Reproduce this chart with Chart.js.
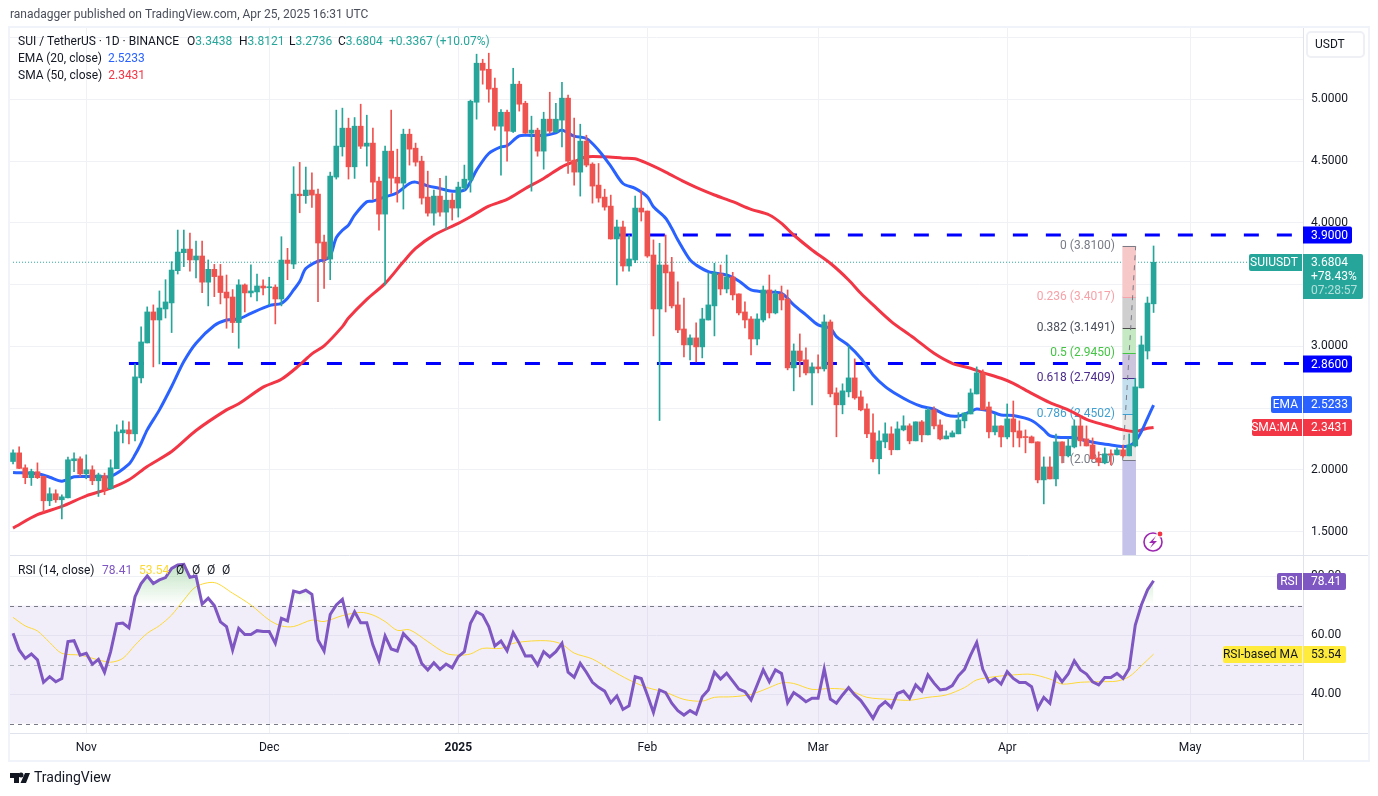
<!DOCTYPE html>
<html><head><meta charset="utf-8">
<style>html,body{margin:0;padding:0;background:#fff}canvas{position:absolute;left:0;top:0}</style>
<script src="https://cdn.jsdelivr.net/npm/chart.js@4/dist/chart.umd.min.js"></script>
</head><body><canvas id="c" width="1378" height="796"></canvas>
<script>
const opens=[2.058,2.128,2.007,1.927,1.975,1.937,1.74,1.797,1.748,1.764,2.064,2.08,1.958,1.991,1.902,1.942,1.837,2.0,2.29,2.314,2.282,2.735,3.018,3.269,3.204,3.293,3.342,3.603,3.749,3.778,3.69,3.722,3.51,3.614,3.56,3.43,3.39,3.183,3.488,3.423,3.431,3.479,3.465,3.47,3.374,3.689,3.657,4.223,4.21,4.256,4.223,3.835,3.697,4.361,4.606,4.757,
4.444,4.773,4.611,4.636,4.328,4.061,4.571,4.36,4.312,4.708,4.595,4.49,4.199,4.069,4.207,4.077,4.174,4.11,4.272,4.336,4.967,5.283,5.234,5.081,4.773,4.886,4.73,5.113,4.959,4.717,4.741,4.571,4.83,4.725,4.822,5.0,4.498,4.401,4.652,4.466,4.296,4.199,4.126,
3.86,3.957,3.641,3.69,4.11,4.086,3.73,3.293,3.649,3.593,3.326,3.131,3.002,3.059,2.986,3.204,3.318,3.577,3.455,3.552,3.415,3.269,3.212,3.05,3.204,3.447,3.261,3.415,3.374,2.816,2.953,2.881,2.775,2.824,2.808,3.188,2.614,2.517,2.622,2.735,2.581,2.484,2.29,2.08,2.217,2.282,2.153,2.314,2.347,2.225,2.379,2.274,
2.476,2.354,2.241,2.257,2.282,2.387,2.443,2.605,2.775,2.5,2.298,2.346,2.257,2.403,2.306,2.257,2.257,2.217,1.909,2.014,1.917,2.217,2.104,2.176,2.346,2.241,2.192,2.087,2.047,2.12,2.112,2.152,2.104,2.184,2.654,2.953,3.3438];
const highs=[2.152,2.177,2.031,1.996,2.047,1.94,1.845,1.829,1.788,2.093,2.128,2.096,2.112,2.023,1.964,1.964,2.072,2.355,2.387,2.379,2.848,3.148,3.31,3.326,3.439,3.53,3.676,3.932,3.932,3.908,3.843,3.843,3.69,3.654,3.654,3.568,3.45,3.53,3.496,3.65,3.576,3.53,3.55,3.488,3.878,3.784,4.445,4.48,4.442,4.396,4.264,3.892,4.401,4.903,4.919,4.838,
4.843,4.951,4.862,4.757,4.36,4.611,4.903,4.587,4.749,4.749,4.636,4.53,4.409,4.255,4.35,4.369,4.228,4.32,4.458,4.984,5.356,5.315,5.364,5.162,4.908,4.903,5.242,5.137,4.975,4.854,4.757,4.886,5.048,4.959,5.129,5.024,4.838,4.789,4.7,4.477,4.471,4.263,4.215,
4.013,4.005,3.892,4.207,4.248,4.086,3.852,3.825,3.892,3.711,3.512,3.382,3.083,3.18,3.299,3.585,3.663,3.649,3.73,3.59,3.415,3.35,3.231,3.253,3.479,3.568,3.447,3.479,3.447,3.01,3.091,2.978,2.856,2.921,3.245,3.204,2.654,2.687,2.994,2.889,2.63,2.525,2.444,2.306,2.371,2.339,2.379,2.428,2.363,2.379,2.39,2.492,
2.5,2.395,2.306,2.306,2.454,2.454,2.646,2.824,2.8,2.54,2.443,2.346,2.524,2.548,2.387,2.314,2.265,2.217,2.095,2.095,2.281,2.217,2.241,2.395,2.419,2.346,2.249,2.136,2.168,2.152,2.168,2.192,2.281,2.732,3.074,3.39,3.8121];
const lows=[2.039,2.0,1.878,1.864,1.92,1.648,1.70,1.727,1.594,1.764,1.975,1.937,1.918,1.87,1.775,1.789,1.837,2.0,2.209,2.201,2.225,2.695,3.018,2.824,2.848,3.22,3.102,3.576,3.636,3.60,3.545,3.426,3.318,3.393,3.334,3.137,3.102,2.975,3.269,3.39,3.358,3.407,3.326,3.172,3.318,3.53,3.62,4.072,4.148,4.115,3.352,3.46,3.53,4.345,4.531,4.345,
4.35,4.592,4.45,4.18,3.932,3.487,4.228,4.158,4.102,4.458,4.45,4.142,4.045,3.972,4.045,3.94,4.013,4.037,4.255,4.239,4.83,5.113,4.967,4.741,4.377,4.49,4.722,4.895,4.714,4.247,4.53,4.425,4.714,4.725,4.606,4.39,4.296,4.207,4.444,4.15,4.158,4.093,3.859,
3.487,3.6,3.6,3.668,4.005,3.711,3.075,2.39,3.269,3.301,3.102,2.905,2.881,2.864,2.897,3.204,3.075,3.407,3.423,3.366,3.245,3.139,2.921,3.002,3.188,3.22,3.253,3.285,2.8,2.63,2.743,2.759,2.517,2.775,2.79,2.581,2.258,2.444,2.581,2.562,2.468,2.25,2.055,1.958,2.169,2.112,2.153,2.306,2.201,2.225,2.217,2.274,
2.322,2.233,2.241,2.257,2.282,2.33,2.443,2.605,2.476,2.249,2.273,2.176,2.241,2.176,2.176,2.128,2.209,1.885,1.715,1.917,1.861,2.047,2.095,2.168,2.184,2.184,2.079,2.023,2.039,2.03,2.112,2.093,2.104,2.176,2.654,2.888,3.2736];
const closes=[2.128,2.002,1.927,1.977,1.927,1.74,1.797,1.748,1.772,2.072,2.08,1.958,1.991,1.902,1.95,1.829,2.007,2.298,2.314,2.282,2.743,3.026,3.269,3.204,3.301,3.35,3.608,3.754,3.778,3.69,3.722,3.51,3.614,3.555,3.426,3.382,3.183,3.488,3.423,3.439,3.479,3.463,3.47,3.374,3.689,3.662,4.223,4.21,4.256,4.215,3.827,3.697,4.369,4.612,4.757,4.444,
4.773,4.611,4.636,4.32,4.061,4.571,4.352,4.312,4.708,4.587,4.482,4.191,4.069,4.207,4.077,4.174,4.11,4.28,4.344,4.975,5.283,5.226,5.073,4.773,4.886,4.733,5.113,4.951,4.717,4.741,4.571,4.83,4.733,4.83,5.0,4.49,4.401,4.652,4.458,4.288,4.191,4.118,3.86,
3.957,3.641,3.698,4.11,4.078,3.722,3.293,3.649,3.585,3.318,3.123,3.002,3.059,2.986,3.212,3.326,3.585,3.455,3.552,3.407,3.261,3.204,3.05,3.212,3.447,3.261,3.415,3.366,2.816,2.953,2.873,2.775,2.824,2.808,3.188,2.606,2.517,2.63,2.735,2.573,2.476,2.282,2.08,2.225,2.282,2.153,2.322,2.347,2.225,2.379,2.274,2.476,
2.346,2.241,2.265,2.29,2.395,2.451,2.613,2.775,2.476,2.298,2.346,2.257,2.403,2.298,2.249,2.252,2.209,1.909,2.014,1.917,2.217,2.104,2.184,2.346,2.225,2.184,2.079,2.052,2.12,2.112,2.152,2.104,2.192,2.662,3.002,3.341,3.6804];
const emaIdx=[0,4,6,8,10,12,14,16,19,20,21,22,24,26,28,30,33,35,37,39,42,44,45,46,47,48,50,51,52,53,54,55,56,58,59,61,63,65,66,68,70,72,74,75,76,78,80,81,83,85,87,89,90,92,94,96,98,100,102,104,105,107,108,109,111,112,114,117,119,121,123,126,128,130,132,134,135,137,139,141,143,145,147,149,151,153,155,157,158,160,162,164,167,169,170,172,174,176,178,180,182,183,184,185,186,187];
const emaVal=[1.969,1.958,1.931,1.899,1.934,1.937,1.937,1.937,2.037,2.112,2.206,2.314,2.476,2.665,2.867,3.016,3.159,3.204,3.212,3.258,3.32,3.339,3.38,3.447,3.515,3.62,3.681,3.689,3.722,3.87,3.93,3.972,4.053,4.161,4.166,4.201,4.234,4.309,4.32,4.29,4.269,4.247,4.255,4.323,4.417,4.552,4.606,4.614,4.695,4.698,4.698,4.719,4.741,4.692,4.673,4.579,4.45,4.309,4.269,4.201,4.121,4.027,3.946,3.852,3.69,3.649,3.595,3.568,3.52,3.447,3.433,3.42,3.326,3.245,3.164,3.137,3.069,2.997,2.894,2.759,2.665,2.598,2.544,2.503,2.481,2.435,2.427,2.462,2.484,2.468,2.435,2.43,2.39,2.314,2.268,2.252,2.252,2.225,2.206,2.192,2.179,2.184,2.22,2.3,2.408,2.5233];
const smaIdx=[0,4,8,12,16,19,22,26,30,35,37,41,44,47,49,51,54,55,58,61,64,66,69,73,75,78,81,84,87,90,92,94,97,100,102,104,107,110,112,115,118,121,124,126,128,131,134,137,139,141,144,147,148,151,154,157,159,162,164,167,170,173,176,179,182,184,185,186,187];
const smaVal=[1.519,1.627,1.694,1.78,1.842,1.91,2.018,2.139,2.309,2.476,2.525,2.66,2.724,2.84,2.93,2.994,3.15,3.22,3.371,3.5,3.675,3.783,3.891,3.986,4.04,4.126,4.18,4.269,4.35,4.444,4.485,4.525,4.525,4.514,4.509,4.471,4.401,4.324,4.278,4.216,4.162,4.1,4.054,3.986,3.892,3.771,3.663,3.528,3.42,3.326,3.191,3.083,3.047,2.934,2.853,2.813,2.778,2.732,2.691,2.61,2.535,2.476,2.4,2.354,2.314,2.3,2.314,2.327,2.3431];
const rsiVal=[60.6,54.95,52.1,53.6,51.6,44,45.9,44.2,45.3,57.8,58.1,53.2,53.8,50.1,51.8,47.4,54.4,63.8,64.1,62.5,73,77.5,80.1,77.5,78.7,79.5,82.6,83.8,84,79.6,80,70.5,72.5,70,64.5,62.9,54.95,62.3,60.2,60.2,61.5,61.2,61.2,57.2,65.7,64.8,74.9,74.4,75.2,73.8,58.3,54.6,67,70.2,72.1,63.6,67.9,64.2,64.2,56.6,51.3,59.7,55.3,54.6,60.5,58.3,56.1,50.4,48.2,50.6,48.4,50.2,48.9,52.7,
54.4,64,67.9,66.8,62.9,56.3,58,54.7,60.8,57.2,52.9,53,49.8,54.4,52.6,54.4,57.2,47.4,45.7,50.4,47.4,44,42.3,41,37.1,39.4,34.8,36,45.9,45.3,39.7,33.8,41.4,40.5,36.9,34.4,32.9,34.4,33.2,39.1,41.4,47.4,45.1,47.1,44.4,41.7,40.8,38,43.1,48.2,44.2,48.2,47,37.1,40.5,39.1,37.4,38.6,38.6,48.5,38.3,36.9,39.7,42.2,39.7,37.8,34.9,31.8,35.7,37.4,35.5,40.2,
41,38.6,43.1,41,46.5,43.7,41.4,41.7,42.9,46.2,48.4,53.2,57.5,48.4,44.2,45.3,43.4,47.6,45.3,43.9,43.9,42.5,35.2,38.9,36.9,47,44.2,46.8,51.3,48.2,46.8,44.2,43.1,45.6,45.6,47,45.3,48.7,63.4,70.2,75.3,78.41];
const maIdx=[0,2,4,6,8,11,14,16,18,20,22,24,26,28,30,33,36,39,42,44,46,49,51,54,57,59,61,63,65,68,71,73,75,77,80,82,85,88,90,92,95,98,101,104,107,110,113,115,118,121,124,126,128,131,134,137,140,144,147,150,153,156,158,161,164,167,170,172,175,178,181,183,185,187];
const maVal=[66,63.1,61.4,57.5,53.8,53.2,51.6,50.8,52.1,56.6,60.6,63.2,66.8,71.9,76.4,77.8,74.2,70.2,65.1,63.1,62.9,65.1,64.6,66.6,67.7,66.8,64.6,61.6,61.8,57.8,53.8,53.2,53.6,55.5,55.5,57.2,58,58,56.9,53.9,51.9,48.2,44.8,42.2,40.6,38.2,37.6,38.9,39.1,39.9,42.2,43.8,43.6,41.6,41.9,41.4,38.9,38.2,37.9,38.9,39.7,42.2,44.8,45.9,46.5,46.7,45.1,43.4,44,44.2,44.4,45.9,49.6,53.54];
const monthIdx=[12,42,73,104,132,163,193];
const monthNames=['Nov','Dec','2025','Feb','Mar','Apr','May'];
const fibRatios=['0','0.236','0.382','0.5','0.618','0.786','1'];
const fibPrices=[3.81,3.4017,3.1491,2.945,2.7409,2.4502,2.08];
const fibLine=['#787b86','#f7a1a8','#4a4a4a','#43c443','#4a2a8a','#3f9fd0','#787b86'];
const fibText=['#787b86','#f7a1a8','#4a4e5a','#43c443','#4a2a8a','#3f9fd0','#787b86'];
const fibFill=['#f6c8c8','#cfcfcf','#c5e9c3','#cdc5dd','#c4e0ee','#e6e6e6','#c5c3ea'];
const levelPrices=[3.9,2.86];
const levelStart=[99,19];
const rsiTicks=[40,60,80];
const lastPrice=3.6804, emaLast=2.5233, smaLast=2.3431, rsiLast=78.41, maLast=53.54;
const priceMin=1.31, priceMax=5.577, rsiMin=26.81, rsiMax=87.15;
// the readings above were taken against a scale that sat about one pixel high
const readingBias=0.009;
const adj=a=>a.map((v,i)=>i===a.length-1?v:+(v+readingBias).toFixed(4));
const O=adj(opens),H=adj(highs),L=adj(lows),C=adj(closes),EMA=adj(emaVal),SMA=adj(smaVal);

const FONT='Roboto, "Noto Sans", sans-serif';
const UP='#26a69a', DN='#ef5350', GRID='#f0f1f5', LINE='#e0e3eb';
const start=new Date(Date.UTC(2024,9,20));
const labels=Array.from({length:212},(_,i)=>new Date(start.getTime()+i*864e5).toISOString().slice(0,10));
const colors=closes.map((c,i)=>c>=opens[i]?UP:DN);
const pts=(idx,val)=>idx.map((k,n)=>({x:labels[k],y:val[n]}));
const canvas=document.getElementById('c');
const ctx0=canvas.getContext('2d');
const grad=ctx0.createLinearGradient(0,560,0,605);
grad.addColorStop(0,'rgba(76,175,80,0.38)');grad.addColorStop(1,'rgba(76,175,80,0)');

const base={pointRadius:0,pointHoverRadius:0};
const datasets=[];
datasets.push({type:'line',label:'Last price',data:[{x:labels[0],y:lastPrice},{x:labels[211],y:lastPrice}],borderColor:UP,borderWidth:1,borderDash:[1,2],order:9,yAxisID:'y',...base});
levelPrices.forEach((p,n)=>datasets.push({type:'line',label:'Level '+p,data:[{x:labels[levelStart[n]],y:p},{x:labels[211],y:p}],borderColor:'#0000ff',borderWidth:3,borderDash:[15,18],order:8,yAxisID:'y',...base}));
fibFill.forEach((col,n)=>{
  const a=fibPrices[n], b=n<fibPrices.length-1?fibPrices[n+1]:priceMin;
  const d=new Array(184).fill(null); d[183]=[b,a];
  datasets.push({type:'bar',label:'Fib '+n,data:d,backgroundColor:col,barThickness:13,grouped:false,order:7,yAxisID:'y'});
});
datasets.push({type:'line',label:'SMA 50',data:pts(smaIdx,SMA),borderColor:'#f23645',borderWidth:3,tension:.3,order:6,yAxisID:'y',...base});
datasets.push({type:'line',label:'EMA 20',data:pts(emaIdx,EMA),borderColor:'#2962ff',borderWidth:3,tension:.3,order:5,yAxisID:'y',...base});
datasets.push({type:'bar',label:'Wick',data:L.map((l,i)=>[l,H[i]]),backgroundColor:colors,barThickness:1,grouped:false,order:3,yAxisID:'y'});
datasets.push({type:'bar',label:'Body',data:O.map((o,i)=>[Math.min(o,C[i]),Math.max(o,C[i])]),backgroundColor:colors,barThickness:5,minBarLength:1,grouped:false,order:2,yAxisID:'y'});
datasets.push({type:'line',label:'RSI MA',data:pts(maIdx,maVal),borderColor:'#fdd835',borderWidth:1,tension:.3,order:6,yAxisID:'rsi',...base});
datasets.push({type:'line',label:'RSI',data:rsiVal,borderColor:'#7e57c2',borderWidth:3,tension:0,order:4,yAxisID:'rsi',fill:{target:{value:70},above:grad,below:'rgba(0,0,0,0)'},...base});

function runs(ctx,x,y,list,font){
  ctx.font=font;ctx.textBaseline='middle';ctx.textAlign='left';
  list.forEach(r=>{ctx.fillStyle=r[1];ctx.fillText(r[0],x,y);x+=ctx.measureText(r[0]).width+(r[2]||0);});
}
function rr(ctx,x,y,w,h,c,r){ctx.fillStyle=c;ctx.beginPath();ctx.roundRect(x,y,w,h,r===undefined?2:r);ctx.fill();}
function tag(ctx,y,lbl,lx,val,bg,fg,rx){
  if(lbl){rr(ctx,lx,y-8.5,1302-lx,17,bg,[2,0,0,2]);ctx.fillStyle=fg;ctx.textAlign='right';ctx.textBaseline='middle';ctx.font='12px '+FONT;ctx.fillText(lbl,1298,y+.5);}
  rr(ctx,1303,y-8.5,rx-1303,17,bg,[0,2,2,0]);
  ctx.fillStyle=fg;ctx.textAlign='left';ctx.textBaseline='middle';ctx.font='12px '+FONT;ctx.fillText(val,1311,y+.5);
}
const painter={
  id:'painter',
  beforeDatasetsDraw(ch){
    const c=ch.ctx,y=ch.scales.y,r=ch.scales.rsi,a=ch.chartArea;
    c.save();
    c.fillStyle='rgba(126,87,194,0.1)';
    c.fillRect(a.left,r.getPixelForValue(70),a.right-a.left,r.getPixelForValue(30)-r.getPixelForValue(70));
    [[70,'#787b86'],[50,'#b4b6bd'],[30,'#787b86']].forEach(([v,col])=>{
      c.strokeStyle=col;c.lineWidth=1;c.setLineDash([4,4]);c.beginPath();
      const py=Math.round(r.getPixelForValue(v))+.5;c.moveTo(a.left,py);c.lineTo(a.right,py);c.stroke();
    });
    c.setLineDash([]);
    c.font='12px '+FONT;c.textAlign='right';c.textBaseline='middle';
    fibRatios.forEach((t,n)=>{c.fillStyle=fibText[n];c.fillText(t+' ('+fibPrices[n].toFixed(4)+')',1115,y.getPixelForValue(fibPrices[n]));});
    c.restore();
  },
  beforeDatasetDraw(ch,args){
    if(ch.data.datasets[args.index].label!=='SMA 50')return;
    const c=ch.ctx,y=ch.scales.y,x=ch.scales.x;
    const fx=x.getPixelForValue(183);
    c.save();
    fibPrices.forEach((p,n)=>{c.strokeStyle=fibLine[n];c.lineWidth=1;c.beginPath();const py=Math.round(y.getPixelForValue(p))+.5;c.moveTo(fx-6.5,py);c.lineTo(fx+6.5,py);c.stroke();});
    c.strokeStyle='#787b86';c.lineWidth=1;c.setLineDash([5,5]);c.beginPath();
    c.moveTo(fx-6.5,y.getPixelForValue(fibPrices[6]));c.lineTo(fx+6.5,y.getPixelForValue(fibPrices[0]));c.stroke();
    c.restore();
  },
  afterDraw(ch){
    const c=ch.ctx,y=ch.scales.y;
    c.save();
    c.strokeStyle=LINE;c.lineWidth=1;c.beginPath();
    c.moveTo(10,555.5);c.lineTo(1368,555.5);
    c.moveTo(10,733.5);c.lineTo(1368,733.5);
    c.moveTo(1303.5,28);c.lineTo(1303.5,760);c.stroke();
    c.strokeStyle='#f0f3fa';c.lineWidth=2;c.strokeRect(9,27,1360,734);
    const dark='#131722';
    runs(c,10,15,[['ranadagger published on TradingView.com, Apr 25, 2025 16:31 UTC','#4a4e5a']],'12px '+FONT);
    runs(c,18,42,[['SUI / TetherUS · 1D · BINANCE',dark]],'12px '+FONT);
    [[187,'O','3.3438'],[239,'H','3.8121'],[289,'L','3.2736'],[338,'C','3.6804']].forEach(e=>runs(c,e[0],42,[[e[1],dark],[e[2],UP]],'12px '+FONT));
    runs(c,389,42,[['+0.3367 (+10.07%)',UP]],'12px '+FONT);
    runs(c,18,59,[['EMA (20, close)',dark,6],[emaLast.toFixed(4),'#2962ff']],'12px '+FONT);
    runs(c,18,76,[['SMA (50, close)',dark,6],[smaLast.toFixed(4),'#f23645']],'12px '+FONT);
    runs(c,18,571,[['RSI (14, close)',dark]],'12px '+FONT);
    runs(c,102,571,[[rsiLast.toFixed(2),'#7e57c2']],'12px '+FONT);
    runs(c,139,571,[[maLast.toFixed(2),'#fdd835']],'12px '+FONT);
    [176,192,207,222].forEach(px=>runs(c,px,571,[['Ø',dark]],'12px '+FONT));
    c.strokeStyle='#eef0f5';c.lineWidth=2;c.beginPath();c.roundRect(1307,32,57,25,4);c.stroke();
    runs(c,1315,44.5,[['USDT',dark]],'12px '+FONT);
    tag(c,Math.round(y.getPixelForValue(levelPrices[0])),null,0,levelPrices[0].toFixed(4),'#0000ff','#fff',1352);
    tag(c,Math.round(y.getPixelForValue(levelPrices[1])),null,0,levelPrices[1].toFixed(4),'#0000ff','#fff',1352);
    tag(c,404.5,'EMA',1271,emaLast.toFixed(4),'#2962ff','#fff',1352);
    tag(c,427.5,'SMA:MA',1252,smaLast.toFixed(4),'#f23645','#fff',1352);
    tag(c,581.5,'RSI',1277,rsiLast.toFixed(2),'#7e57c2','#fff',1346);
    tag(c,654.5,'RSI-based MA',1223,maLast.toFixed(2),'#ffeb3b','#131722',1346);
    rr(c,1249,254,53,17,UP,[2,0,0,2]);
    c.fillStyle='#fff';c.font='12px '+FONT;c.textAlign='right';c.textBaseline='middle';c.fillText('SUIUSDT',1298,262.5);
    rr(c,1303,254,60,45,UP,[0,2,2,0]);
    c.textAlign='left';c.fillStyle='#fff';
    c.fillText(lastPrice.toFixed(4),1311,262.5);c.fillText('+78.43%',1311,277);
    c.fillStyle='rgba(255,255,255,.65)';c.fillText('07:28:57',1311,291);
    c.strokeStyle='#9c27b0';c.lineWidth=1.6;c.beginPath();c.arc(1153,542,9,0,Math.PI*2);c.stroke();
    c.fillStyle='#9c27b0';c.beginPath();c.moveTo(1156,536);c.lineTo(1149,543);c.lineTo(1153,543);c.lineTo(1150,548);c.lineTo(1157,541);c.lineTo(1153,541);c.closePath();c.fill();
    c.fillStyle='#fff';c.beginPath();c.arc(1160,534,3.6,0,Math.PI*2);c.fill();
    c.fillStyle='#f23645';c.beginPath();c.arc(1160,534,2.4,0,Math.PI*2);c.fill();
    c.fillStyle='#131722';c.fillRect(10,773,9,5);c.fillRect(14,773,5,10);
    c.beginPath();c.arc(21,775,2.5,0,Math.PI*2);c.fill();
    c.beginPath();c.moveTo(25,773);c.lineTo(30,773);c.lineTo(26,783);c.lineTo(20.5,783);c.closePath();c.fill();
    runs(c,34,778.5,[['TradingView','#131722']],'14px '+FONT);
    c.restore();
  }
};
new Chart(canvas,{
  data:{labels,datasets},
  plugins:[painter],
  options:{
    responsive:false,animation:false,events:[],
    layout:{padding:{left:10,top:28,right:10,bottom:36}},
    plugins:{legend:{display:false},tooltip:{enabled:false}},
    scales:{
      x:{type:'category',offset:true,
        grid:{color:GRID,offset:false,drawTicks:false},border:{display:false},
        afterBuildTicks:s=>{s.ticks=s.ticks.filter(t=>monthIdx.includes(t.value));},
        afterFit:s=>{s.height=27;},
        ticks:{autoSkip:false,maxRotation:0,padding:8,color:'#131722',
          font:ctx=>({family:FONT,size:12,weight:ctx.tick&&ctx.tick.label==='2025'?'bold':'normal'}),
          callback:v=>monthNames[monthIdx.indexOf(v)]||''}},
      y:{position:'right',stack:'panes',stackWeight:527,weight:0,min:priceMin,max:priceMax,
        grid:{color:GRID,drawTicks:false},border:{display:false},
        afterFit:s=>{s.width=65;},
        ticks:{stepSize:.5,includeBounds:false,padding:8,color:'#131722',font:{family:FONT,size:12},
          callback:v=>[2.5,3.5,5.5].includes(v)?'':v.toFixed(4)}},
      rsi:{position:'right',stack:'panes',stackWeight:178,weight:1,min:rsiMin,max:rsiMax,
        grid:{color:GRID,drawTicks:false},border:{display:false},
        afterFit:s=>{s.width=65;},
        afterBuildTicks:s=>{s.ticks=rsiTicks.map(v=>({value:v}));},
        ticks:{padding:8,color:'#131722',font:{family:FONT,size:12},
          callback:v=>v.toFixed(2)}}
    }
  }
});
</script></body></html>
